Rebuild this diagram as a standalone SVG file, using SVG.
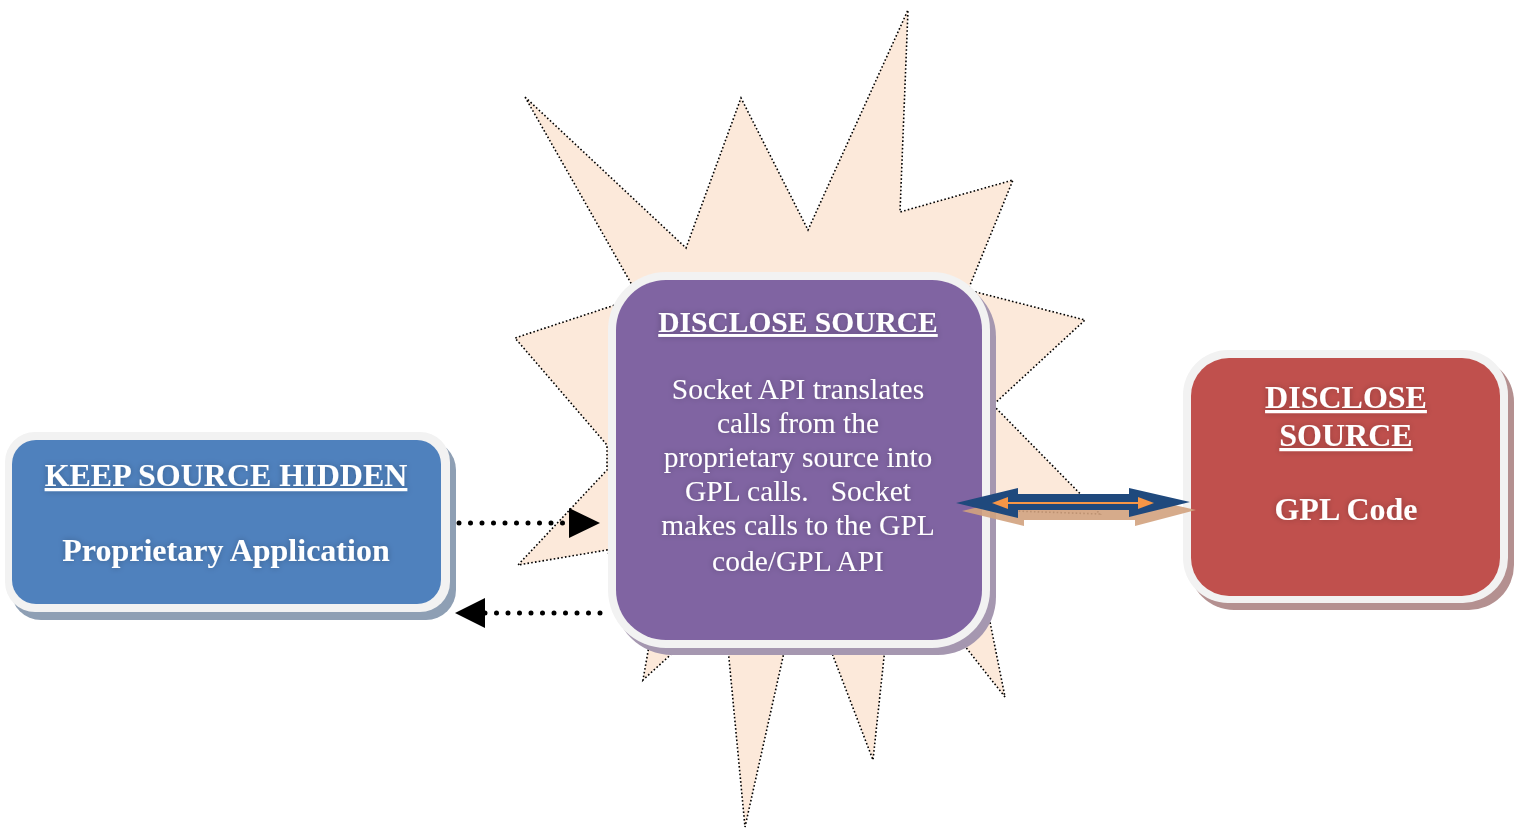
<svg xmlns="http://www.w3.org/2000/svg" width="1515" height="828" viewBox="0 0 1515 828">
<style>
.burst{fill:#FCE9DA;stroke:#000;stroke-width:1.6;stroke-dasharray:1.6 2.2}
.frame{fill:#F2F2F2}
.t{font-family:"Liberation Serif","Times New Roman",serif;fill:#fff;text-anchor:middle}
.h{font-weight:bold;text-decoration:underline}
.b{font-weight:bold}
.dots{stroke:#000;stroke-width:5;stroke-linecap:round;stroke-dasharray:0 11.5;fill:none}
</style>
<defs>
<filter id="glow" x="-20%" y="-20%" width="140%" height="140%">
<feGaussianBlur in="SourceAlpha" stdDeviation="3"/>
<feComponentTransfer><feFuncA type="linear" slope="0.25"/></feComponentTransfer>
<feMerge><feMergeNode/><feMergeNode in="SourceGraphic"/></feMerge>
</filter>
</defs>
<g id="burst">
<polygon class="burst" points="525,97 686,248 741,98 808,230 908,10 900,212 1013,180 968,290 1085,320 993,405 1100,514 985,510 985,597 1005,697 960,640 885,648 873,760 830,648 785,648 745,827 728,648 678,648 643,680 650,640 607,550 518,565 607,470 607,445 515,338 615,305 632,285"/>
</g>
<g id="node-hidden">
<rect x="11" y="440" width="445" height="180" rx="30" fill="#8E9FB4"/>
<rect class="frame" x="5" y="432" width="445" height="180" rx="30"/>
<rect x="12" y="440" width="429" height="164" rx="24" fill="#4F81BD"/>
<g filter="url(#glow)">
<text class="t h" x="226" y="486" font-size="32">KEEP SOURCE HIDDEN</text>
<text class="t b" x="226" y="561" font-size="32">Proprietary Application</text>
</g>
</g>
<g id="node-socket">
<rect x="614" y="279" width="382" height="376" rx="58" fill="#A597B0"/>
<rect class="frame" x="608" y="272" width="382" height="376" rx="58"/>
<rect x="616" y="280" width="366" height="360" rx="50" fill="#8064A2"/>
<g filter="url(#glow)">
<text class="t h" x="798" y="332" font-size="29.5">DISCLOSE SOURCE</text>
<text class="t" x="798" y="399" font-size="29.5">Socket API translates</text>
<text class="t" x="798" y="433" font-size="29.5">calls from the</text>
<text class="t" x="798" y="467" font-size="29.5">proprietary source into</text>
<text class="t" x="798" y="501" font-size="29.5" xml:space="preserve">GPL calls.   Socket</text>
<text class="t" x="798" y="535" font-size="29.5">makes calls to the GPL</text>
<text class="t" x="798" y="571" font-size="29.5">code/GPL API</text>
</g>
</g>
<g id="node-gpl">
<rect x="1189" y="357" width="325" height="253" rx="45" fill="#B49090"/>
<rect class="frame" x="1183" y="350" width="325" height="253" rx="45"/>
<rect x="1191" y="358" width="309" height="238" rx="38" fill="#C0504D"/>
<g filter="url(#glow)">
<text class="t h" x="1346" y="408" font-size="32">DISCLOSE</text>
<text class="t h" x="1346" y="446" font-size="32">SOURCE</text>
<text class="t b" x="1346" y="520" font-size="32">GPL Code</text>
</g>
</g>
<g id="connectors">
<line class="dots" x1="459" y1="523" x2="570" y2="523"/>
<polygon points="569,508 600,523 569,538" fill="#000"/>
<line class="dots" x1="600" y1="613" x2="483" y2="613"/>
<polygon points="455,613 485,598 485,628" fill="#000"/>
<polygon points="962,511 1024,496 1024,502 1135,502 1135,496 1196,510 1135,526 1135,520 1024,520 1024,526" fill="#D1A27E" opacity="0.9"/>
<polygon points="956,503 1018,488 1018,494 1129,494 1129,488 1190,502 1129,517 1129,510 1018,510 1018,518" fill="#1F497D"/>
<line x1="1002" y1="503" x2="1143" y2="503" stroke="#F79646" stroke-width="2"/>
<polygon points="992,503 1008,497 1008,509" fill="#F79646"/>
<polygon points="1154,503 1138,497 1138,509" fill="#F79646"/>
</g>
</svg>
